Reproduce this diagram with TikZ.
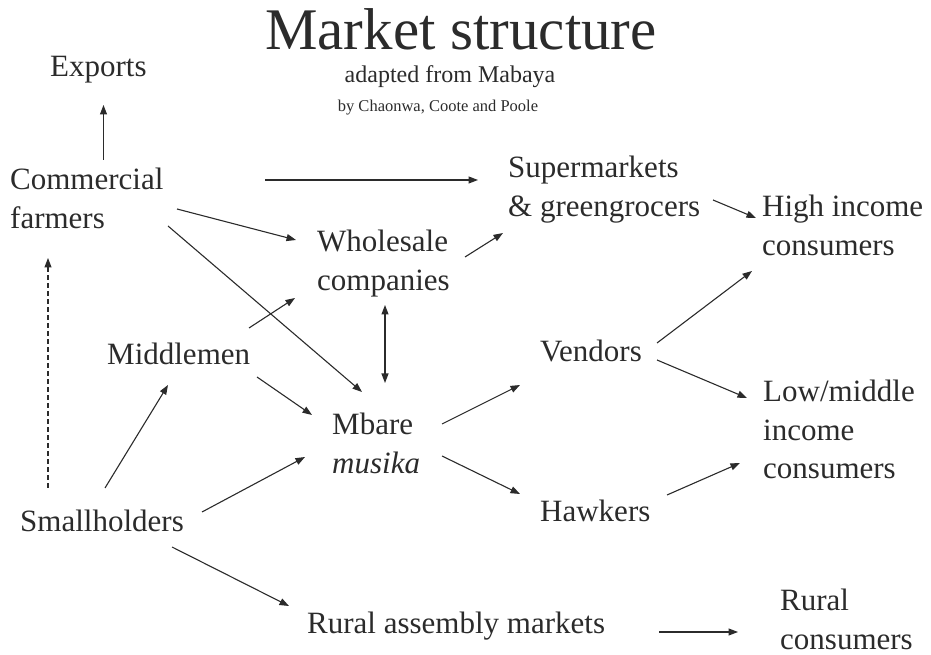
\documentclass[tikz,border=0pt]{standalone}
\usepackage{fontspec}
\setmainfont{Liberation Serif}
\usetikzlibrary{arrows.meta}
\definecolor{ink}{HTML}{2B2B2B}

\begin{document}
\begin{tikzpicture}[x=1pt, y=1pt,
  lbl/.style={anchor=base west, align=left, inner sep=0, text=ink, font=\fontsize{31}{38.5}\selectfont},
  head/.style={anchor=base, inner sep=0, text=ink},
  arr/.style={draw=ink, line width=1.1pt, -{Triangle[length=9.5pt,width=7pt]}}]
\useasboundingbox (0,0) rectangle (931,655);
% heading
\node[head, font=\fontsize{59}{62}\selectfont] (title) at (461,605) {Market structure};
\node[head, font=\fontsize{24}{26}\selectfont] (src) at (450,572) {adapted from Mabaya};
\node[head, font=\fontsize{16.5}{18}\selectfont] (auth) at (438,543) {by Chaonwa, Coote and Poole};
% actors (multi-line ones sit on their last line)
\node[lbl] (ex) at (50,578) {Exports};
\node[lbl] (cf) at (10,426.5) {Commercial\\farmers};
\node[lbl] (ws) at (317,364.5) {Wholesale\\companies};
\node[lbl] (sm) at (508,438.5) {Supermarkets\\\& greengrocers};
\node[lbl] (hi) at (762,399.5) {High income\\consumers};
\node[lbl] (mm) at (107,290) {Middlemen};
\node[lbl] (mb) at (332,181.5) {Mbare\\\textit{musika}};
\node[lbl] (vd) at (540,293) {Vendors};
\node[lbl] (lm) at (763,176) {Low/middle\\income\\consumers};
\node[lbl] (sh) at (20,123) {Smallholders};
\node[lbl] (hk) at (540,133) {Hawkers};
\node[lbl] (ra) at (307,21) {Rural assembly markets};
\node[lbl] (rc) at (780,5.5) {Rural\\consumers};
% flows
\foreach \s/\p/\t/\q in {cf/{93.5,68.5}/ex/{53.5,-28}, cf/{255,48.5}/sm/{-30,36.5},
  cf/{167,19.5}/ws/{-21,50.5}, cf/{158,2.5}/mb/{30,81.5}, mm/{142,37}/ws/{-22,-7.5},
  mm/{150,-12}/mb/{-20,58.5}, sh/{85,44}/mm/{61,-20}, sh/{182,20}/mb/{-27,16.5},
  sh/{152,-15}/ra/{-18,28}, ws/{148,33.5}/sm/{-5,-16.5}, sm/{205,16.5}/hi/{-6,37.5},
  vd/{117,19}/hi/{-10,-15.5}, vd/{117,2}/lm/{-16,81}, mb/{110,49.5}/vd/{-20,-23},
  mb/{110,17.5}/hk/{-20,28}, hk/{127,27}/lm/{-23,16}, ra/{352,2}/rc/{-42,17.5}} {
 \draw[arr] ([shift={(\p)}]\s.base west) -- ([shift={(\q)}]\t.base west);
}
\draw[arr, {Triangle[length=9.5pt,width=7pt]}-{Triangle[length=9.5pt,width=7pt]}] ([shift={(68,-14.5)}]ws.base west) -- ([shift={(53,90.5)}]mb.base west);
\draw[arr, dash pattern=on 5pt off 3pt] ([shift={(28,44)}]sh.base west) -- ([shift={(38,-29.5)}]cf.base west);
\end{tikzpicture}
\end{document}
